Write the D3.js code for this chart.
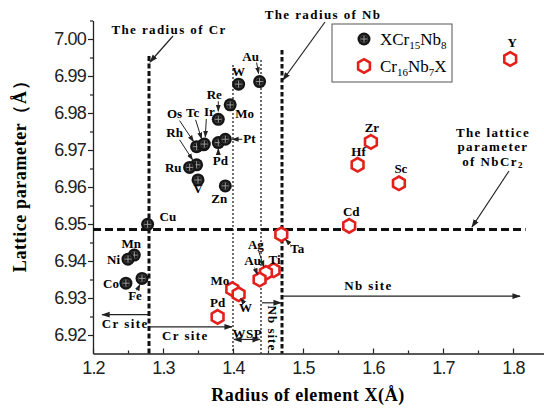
<!DOCTYPE html>
<html>
<head>
<meta charset="utf-8">
<script src="https://cdn.jsdelivr.net/npm/d3@7"></script>
<style>
  body { margin: 0; background: #fff; }
  .tick text { font-family: "Liberation Sans", Arial, sans-serif; font-size: 18px; letter-spacing: -0.8px; }
  .lbl { font-family: "Liberation Serif", "Times New Roman", serif; font-weight: bold; font-size: 13px; }
  .ann { font-family: "Liberation Serif", "Times New Roman", serif; font-weight: bold; font-size: 13px; letter-spacing: 1.4px; }
  .title { font-family: "Liberation Serif", "Times New Roman", serif; font-weight: bold; font-size: 18px; letter-spacing: 0.6px; }
  .leg { font-family: "Liberation Serif", "Times New Roman", serif; font-size: 17px; }
</style>
</head>
<body>
<div id="chart"></div>
<script>
// XCr15Nb8 (black markers)
const xcrNames   = ["Au", "W", "Mo", "Re", "Os", "Tc", "Ir", "Pd", "Pt", "Rh", "Ru", "V", "Zn", "Cu", "Mn", "Ni", "Co", "Fe"];
const xcrRadius  = [1.438, 1.408, 1.396, 1.379, 1.348, 1.358, 1.359, 1.379, 1.389, 1.348, 1.338, 1.350, 1.389, 1.278, 1.259, 1.250, 1.247, 1.270];
const xcrLattice = [6.9885, 6.9878, 6.9822, 6.9783, 6.9709, 6.9714, 6.9716, 6.9720, 6.9729, 6.9660, 6.9653, 6.9619, 6.9603, 6.9499, 6.9416, 6.9405, 6.9340, 6.9353];

// Cr16Nb7X (red hexagons)
const crnbNames   = ["Y", "Zr", "Hf", "Sc", "Cd", "Ta", "Ti", "Ag", "Au", "Mo", "W", "Pd"];
const crnbRadius  = [1.796, 1.597, 1.578, 1.637, 1.566, 1.469, 1.458, 1.447, 1.438, 1.399, 1.408, 1.378];
const crnbLattice = [6.9946, 6.9722, 6.9660, 6.9610, 6.9495, 6.9472, 6.9375, 6.9368, 6.9350, 6.9324, 6.9310, 6.9249];

// reference values
const crRadius = 1.28;
const nbRadius = 1.47;
const wspBounds = [1.40, 1.44];
const nbCr2Lattice = 6.9485;

const xTicks = [1.2, 1.3, 1.4, 1.5, 1.6, 1.7, 1.8];
const yTicks = [6.92, 6.93, 6.94, 6.95, 6.96, 6.97, 6.98, 6.99, 7.00];

// label placement (pixel offsets from each point): [dx, dy, anchor, arrow [x1,y1,x2,y2] or null]
const xcrLabelPos = {
  Au: [-9, -21, "middle", [-3, -19, -1, -8]],
  W:  [0, -8, "middle", null],
  Mo: [5, 13, "start", null],
  Re: [-4, -20, "middle", [0, -18, 0, -8]],
  Os: [-22, -29, "middle", [-17, -26, -3, -5]],
  Tc: [-11, -28, "middle", [-8, -25, -2, -6]],
  Ir: [5, -28, "middle", [2, -25, 1, -7]],
  Pd: [2, 22, "middle", [0, 11, 0, 6]],
  Pt: [18, 4, "start", [17, 0, 7, 0]],
  Rh: [-22, -28, "middle", [-17, -25, -4, -5]],
  Ru: [-8, 5, "end", null],
  V:  [0, 13, "middle", null],
  Zn: [-6, 17, "middle", null],
  Cu: [12, -3, "start", null],
  Mn: [-3, -7, "middle", null],
  Ni: [-8, 5, "end", null],
  Co: [-7, 5, "end", null],
  Fe: [-7, 22, "middle", [-5, 12, -2, 6]]
};
const crnbLabelPos = {
  Y:  [2, -12, "middle", null],
  Zr: [1, -10, "middle", null],
  Hf: [1, -9, "middle", null],
  Sc: [2, -10, "middle", null],
  Cd: [2, -10, "middle", null],
  Ta: [9, 19, "start", [9, 10, 4, 5]],
  Ti: [-5, -6, "start", null],
  Ag: [-10, -24, "middle", [-7, -21, -2, -6]],
  Au: [-7, -15, "middle", [-5, -12, -2, -5]],
  Mo: [-3, -4, "end", null],
  W:  [7, 18, "middle", [5, 8, 2, 4]],
  Pd: [0, -10, "middle", null]
};

const W = 544, H = 408;
const svg = d3.select("#chart").append("svg")
  .attr("width", W).attr("height", H);

const defs = svg.append("defs");
defs.append("marker").attr("id", "ah")
  .attr("viewBox", "0 0 10 10").attr("refX", 9).attr("refY", 5)
  .attr("markerWidth", 7).attr("markerHeight", 7).attr("orient", "auto-start-reverse")
  .append("path").attr("d", "M0,1.5L10,5L0,8.5Z").attr("fill", "#222");

const x = d3.scaleLinear().domain([1.2, 1.86]).range([93, 555]);
const y = d3.scaleLinear().domain([6.915, 7.005]).range([353.5, 20.5]);

// axes
const xAxis = svg.append("g").attr("transform", "translate(0," + y(6.915) + ")")
  .call(d3.axisBottom(x).tickValues(xTicks).tickFormat(d3.format(".1f")).tickSizeInner(-5).tickSizeOuter(0).tickPadding(8));
xAxis.selectAll(".tick text").attr("fill", "#222");
svg.append("g").attr("transform", "translate(0," + y(6.915) + ")")
  .call(d3.axisBottom(x).tickValues(d3.range(1.25, 1.86, 0.1)).tickFormat("").tickSizeInner(-3).tickSizeOuter(0))
  .select(".domain").remove();

const yAxis = svg.append("g").attr("transform", "translate(" + x(1.2) + ",0)")
  .call(d3.axisLeft(y).tickValues(yTicks).tickFormat(d3.format(".2f")).tickSizeInner(5).tickSizeOuter(0).tickPadding(2));
yAxis.selectAll(".tick text").attr("fill", "#222");
svg.append("g").attr("transform", "translate(" + x(1.2) + ",0)")
  .call(d3.axisLeft(y).tickValues(d3.range(6.925, 7.006, 0.01)).tickFormat("").tickSizeInner(3).tickSizeOuter(0))
  .select(".domain").remove();
svg.selectAll(".domain").attr("stroke", "#222").attr("stroke-width", 1.3);
svg.selectAll(".tick line").attr("stroke", "#222").attr("stroke-width", 1.2);

// reference lines
svg.append("line").attr("x1", x(crRadius)).attr("x2", x(crRadius))
  .attr("y1", 56).attr("y2", y(6.915))
  .attr("stroke", "#111").attr("stroke-width", 3).attr("stroke-dasharray", "5,2.5");
svg.append("line").attr("x1", x(nbRadius)).attr("x2", x(nbRadius))
  .attr("y1", 50).attr("y2", y(6.915))
  .attr("stroke", "#111").attr("stroke-width", 3).attr("stroke-dasharray", "4.5,2.5");
svg.append("line").attr("x1", x(1.2)).attr("x2", x(1.818))
  .attr("y1", y(nbCr2Lattice)).attr("y2", y(nbCr2Lattice))
  .attr("stroke", "#111").attr("stroke-width", 3).attr("stroke-dasharray", "8,4");
svg.append("line").attr("x1", x(wspBounds[0])).attr("x2", x(wspBounds[0]))
  .attr("y1", 65).attr("y2", y(6.915))
  .attr("stroke", "#222").attr("stroke-width", 1.3).attr("stroke-dasharray", "2,2");
svg.append("line").attr("x1", x(wspBounds[1])).attr("x2", x(wspBounds[1]))
  .attr("y1", 60).attr("y2", y(6.915))
  .attr("stroke", "#222").attr("stroke-width", 1.3).attr("stroke-dasharray", "2,2");

// site arrows
function arrow(x1, y1, x2, y2, both) {
  const l = svg.append("line").attr("x1", x1).attr("y1", y1).attr("x2", x2).attr("y2", y2)
    .attr("stroke", "#222").attr("stroke-width", 1.2).attr("marker-end", "url(#ah)");
  if (both) l.attr("marker-start", "url(#ah)");
}
arrow(x(crRadius) - 1, y(6.9255), x(1.213), y(6.9255));
svg.append("text").attr("class", "ann").attr("x", x(1.246)).attr("y", y(6.9219))
  .attr("text-anchor", "middle").text("Cr site");
arrow(x(crRadius) + 1, y(6.9222), x(wspBounds[0]) - 1, y(6.9222));
svg.append("text").attr("class", "ann").attr("x", x(1.332)).attr("y", y(6.9186))
  .attr("text-anchor", "middle").text("Cr site");
arrow(x(wspBounds[0]) + 1, y(6.9188), x(wspBounds[1]) - 1, y(6.9188), true);
svg.append("text").attr("class", "ann").attr("x", x(1.4205)).attr("y", y(6.9192))
  .attr("text-anchor", "middle").style("letter-spacing", "0.5px").text("WSP");
arrow(x(wspBounds[1]) + 1, y(6.9287), x(nbRadius) - 1, y(6.9287));
svg.append("text").attr("class", "ann")
  .attr("transform", "translate(" + (x(1.4555) - 4) + "," + y(6.9218) + ") rotate(90)")
  .attr("text-anchor", "middle").style("letter-spacing", "1px").text("Nb site");
arrow(x(nbRadius) + 1, y(6.9305), x(1.81), y(6.9305));
svg.append("text").attr("class", "ann").attr("x", x(1.5935)).attr("y", y(6.9321))
  .attr("text-anchor", "middle").text("Nb site");

// annotations
svg.append("text").attr("class", "ann").attr("x", 169).attr("y", 34)
  .attr("text-anchor", "middle").text("The radius of Cr");
arrow(173, 36, 150, 62);
svg.append("text").attr("class", "ann").attr("x", 323).attr("y", 19)
  .attr("text-anchor", "middle").text("The radius of Nb");
arrow(325, 22, 283, 80);
const ann3 = svg.append("text").attr("class", "ann").attr("text-anchor", "middle");
ann3.append("tspan").attr("x", 493).attr("y", 137).text("The lattice");
ann3.append("tspan").attr("x", 493).attr("y", 151).text("parameter");
ann3.append("tspan").attr("x", 493).attr("y", 166).text("of NbCr");
ann3.append("tspan").attr("dy", 2).style("font-size", "9px").text("2");
arrow(509, 171, 472, 227);

// markers
function hexPath(r) {
  const pts = d3.range(6).map(i => {
    const a = Math.PI / 3 * i - Math.PI / 2;
    return [r * Math.cos(a), r * Math.sin(a)];
  });
  return "M" + pts.join("L") + "Z";
}
function blackMarker(g) {
  g.append("circle").attr("r", 6.5).attr("fill", "#151515");
  g.append("path").attr("d", "M-3.5,0H3.5M0,-3.5V3.5").attr("stroke", "#9a9a9a").attr("stroke-width", 1);
  g.append("circle").attr("r", 3.8).attr("fill", "none").attr("stroke", "#555").attr("stroke-width", 0.6);
}
function redMarker(g) {
  g.append("path").attr("d", hexPath(6.8)).attr("fill", "#fff")
    .attr("stroke", "#e3201b").attr("stroke-width", 2.6);
}

const xcrData = xcrNames.map((n, i) => ({ name: n, r: xcrRadius[i], a: xcrLattice[i] }));
const crnbData = crnbNames.map((n, i) => ({ name: n, r: crnbRadius[i], a: crnbLattice[i] }));

const gRed = svg.append("g");
gRed.selectAll("g").data(crnbData).enter().append("g")
  .attr("transform", d => "translate(" + x(d.r) + "," + y(d.a) + ")")
  .each(function() { redMarker(d3.select(this)); });

const gBlack = svg.append("g");
gBlack.selectAll("g").data(xcrData).enter().append("g")
  .attr("transform", d => "translate(" + x(d.r) + "," + y(d.a) + ")")
  .each(function() { blackMarker(d3.select(this)); });

// point labels
function drawLabels(data, pos) {
  data.forEach(d => {
    const p = pos[d.name];
    if (!p) return;
    const px = x(d.r), py = y(d.a);
    svg.append("text").attr("class", "lbl")
      .attr("x", px + p[0]).attr("y", py + p[1])
      .attr("text-anchor", p[2]).text(d.name);
    if (p[3]) {
      svg.append("line")
        .attr("x1", px + p[3][0]).attr("y1", py + p[3][1])
        .attr("x2", px + p[3][2]).attr("y2", py + p[3][3])
        .attr("stroke", "#222").attr("stroke-width", 1).attr("marker-end", "url(#ah)");
    }
  });
}
drawLabels(xcrData, xcrLabelPos);
drawLabels(crnbData, crnbLabelPos);

// legend
const leg = svg.append("g");
leg.append("rect").attr("x", 332).attr("y", 24).attr("width", 120).attr("height", 58)
  .attr("fill", "#fff").attr("stroke", "#555").attr("stroke-width", 1);
blackMarker(leg.append("g").attr("transform", "translate(364,39)"));
redMarker(leg.append("g").attr("transform", "translate(364,66)"));
const t1 = leg.append("text").attr("class", "leg").attr("x", 380).attr("y", 45);
t1.append("tspan").text("XCr");
t1.append("tspan").attr("dy", 4).style("font-size", "11px").text("15");
t1.append("tspan").attr("dy", -4).text("Nb");
t1.append("tspan").attr("dy", 4).style("font-size", "11px").text("8");
const t2 = leg.append("text").attr("class", "leg").attr("x", 380).attr("y", 72);
t2.append("tspan").text("Cr");
t2.append("tspan").attr("dy", 4).style("font-size", "11px").text("16");
t2.append("tspan").attr("dy", -4).text("Nb");
t2.append("tspan").attr("dy", 4).style("font-size", "11px").text("7");
t2.append("tspan").attr("dy", -4).text("X");

// axis titles
svg.append("text").attr("class", "title")
  .attr("transform", "translate(26,172) rotate(-90)")
  .attr("text-anchor", "middle").text("Lattice parameter（Å）");
svg.append("text").attr("class", "title")
  .attr("x", 308).attr("y", 401).attr("text-anchor", "middle").text("Radius of element X(Å)");
</script>
</body>
</html>
